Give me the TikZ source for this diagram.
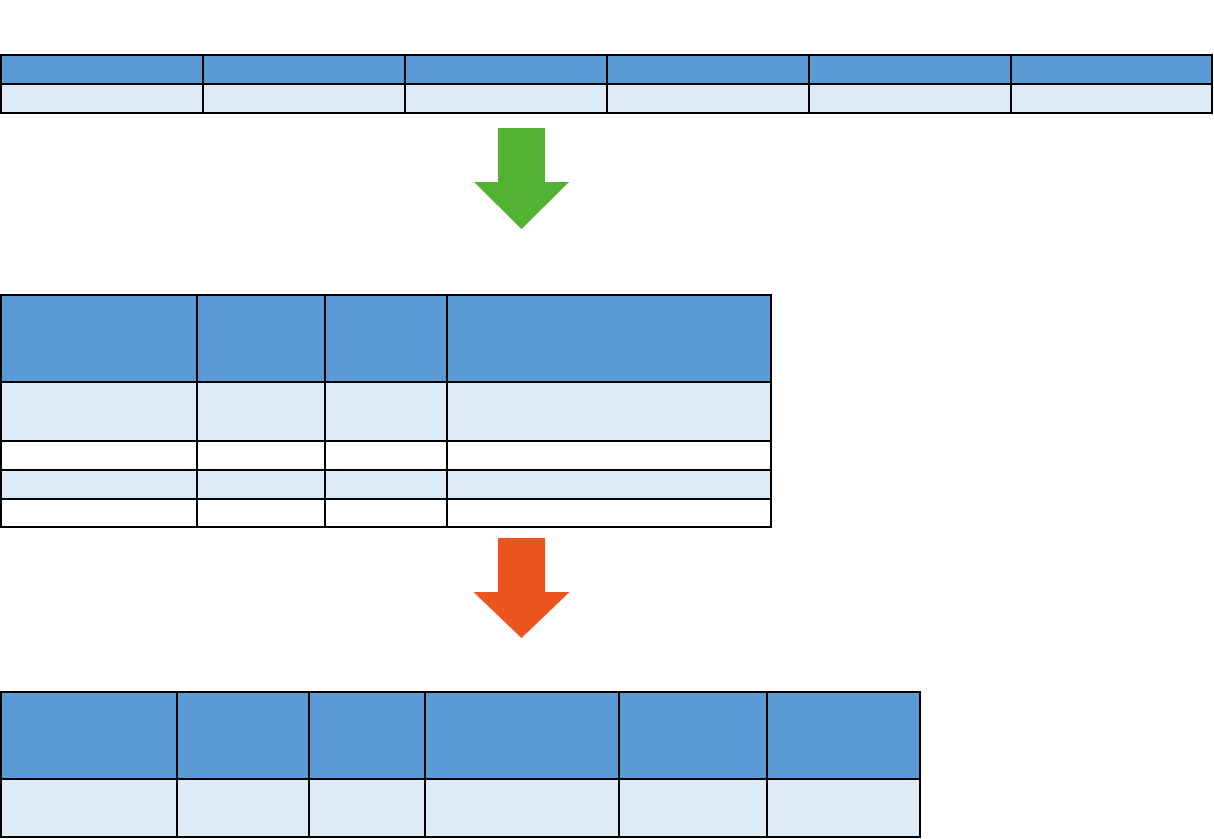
\documentclass[tikz,border=0pt]{standalone}
\usetikzlibrary{positioning}
\definecolor{headblue}{RGB}{91,155,213}
\definecolor{rowblue}{RGB}{221,235,247}
\definecolor{arrowgreen}{RGB}{82,178,50}
\definecolor{arroworange}{RGB}{235,86,30}
\tikzset{
    %Define style for table cells
    cell/.style={
           rectangle,
           draw=black, line width=2pt,
           inner sep=0pt, outer sep=0pt,
           anchor=north west},
    headcell/.style={cell, fill=headblue},
    lightcell/.style={cell, fill=rowblue},
    whitecell/.style={cell, fill=white},
    % Define block arrow styles
    greenarrow/.style={fill=arrowgreen},
    orangearrow/.style={fill=arroworange}
}
\begin{document}
\begin{tikzpicture}[x=1pt,y=-1pt]
\useasboundingbox (0,0) rectangle (1214,838);
 %first table
\foreach \x/\w [count=\i] in {1/202,203/202,405/202,607/202,809/202,1011/201}{
  \node[headcell, minimum width=\w pt, minimum height=29pt] (one-h\i) at (\x,55) {};
  \node[lightcell, minimum width=\w pt, minimum height=29pt] (one-r\i) at (\x,84) {};
}
 %green arrow
\fill[greenarrow] (498,128) -- (545,128) -- (545,182) -- (569,182)
   -- (521.5,229) -- (474,182) -- (498,182) -- cycle;
 %second table
\foreach \x/\w [count=\i] in {1/196,197/128,325/122,447/324}{
  \node[headcell, minimum width=\w pt, minimum height=87pt] (two-h\i) at (\x,295) {};
  \node[lightcell, minimum width=\w pt, minimum height=59pt] (two-a\i) at (\x,382) {};
  \node[whitecell, minimum width=\w pt, minimum height=29pt] (two-b\i) at (\x,441) {};
  \node[lightcell, minimum width=\w pt, minimum height=29pt] (two-c\i) at (\x,470) {};
  \node[whitecell, minimum width=\w pt, minimum height=28pt] (two-d\i) at (\x,499) {};
}
 %orange arrow
\fill[orangearrow] (498,538) -- (545,538) -- (545,592) -- (569.5,592)
   -- (521.5,638) -- (473.5,592) -- (498,592) -- cycle;
 %third table
\foreach \x/\w [count=\i] in {1/176,177/132,309/116,425/194,619/148,767/153}{
  \node[headcell, minimum width=\w pt, minimum height=87pt] (three-h\i) at (\x,692) {};
  \node[lightcell, minimum width=\w pt, minimum height=58pt] (three-r\i) at (\x,779) {};
}
\end{tikzpicture}
\end{document}
